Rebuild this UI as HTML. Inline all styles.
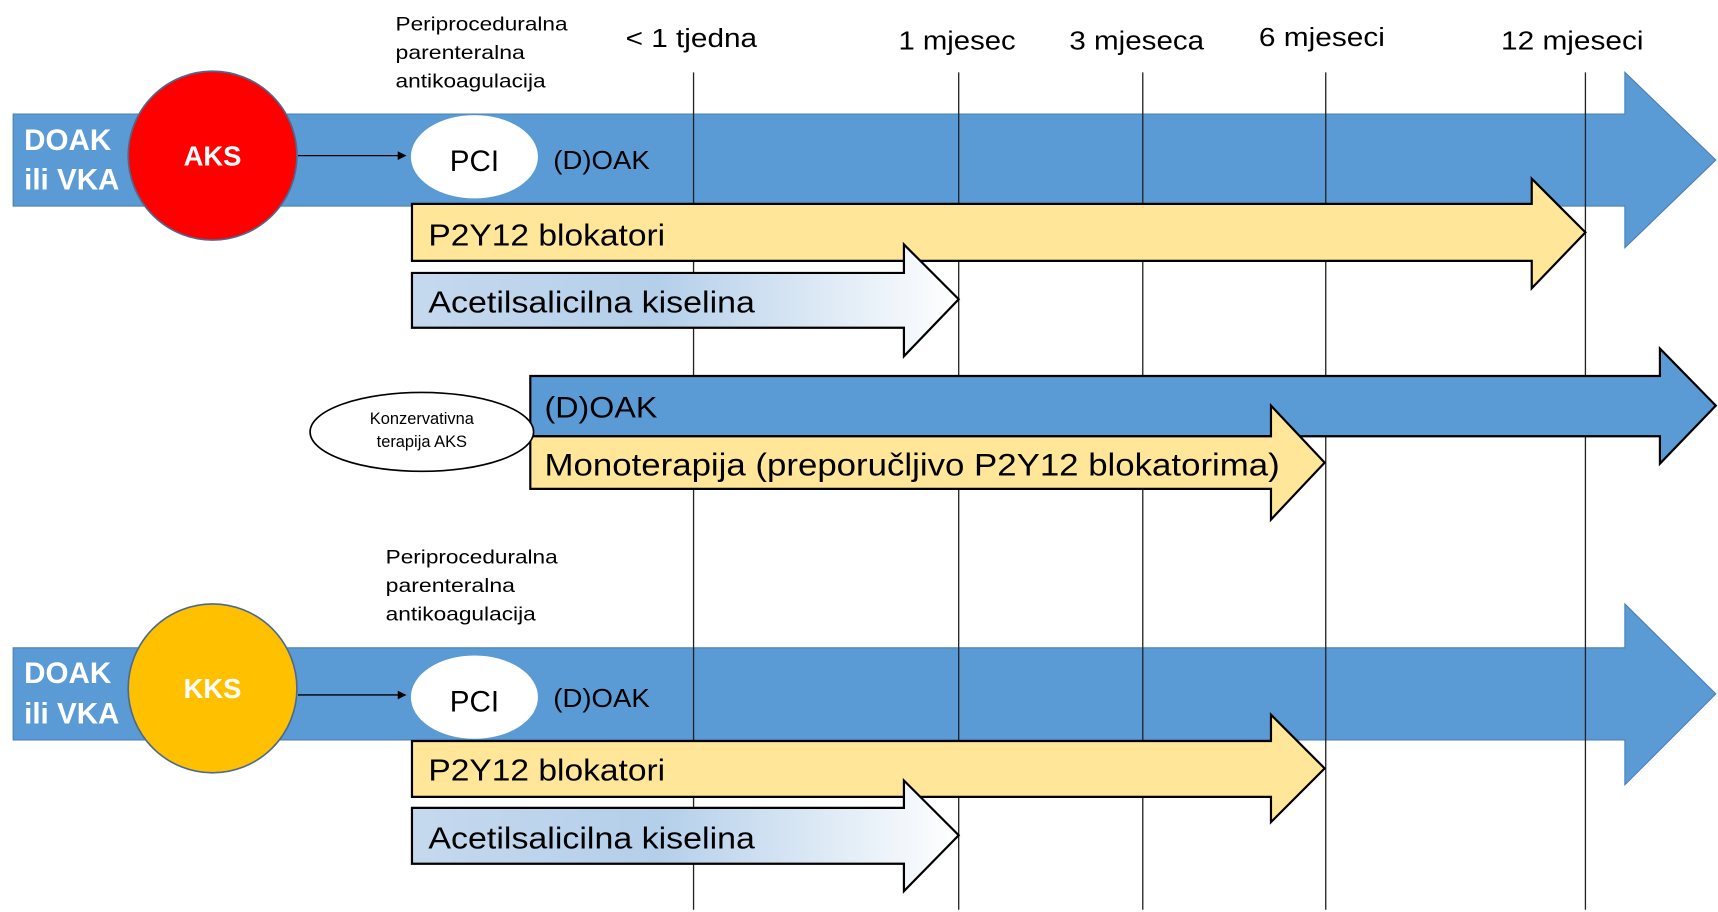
<!DOCTYPE html>
<html><head><meta charset="utf-8"><style>
html,body{margin:0;padding:0;background:#fff;}
svg{display:block;}
text{font-family:"Liberation Sans",sans-serif;}
</style></head><body>
<svg width="1718" height="912" viewBox="0 0 1568 832" preserveAspectRatio="none" xmlns="http://www.w3.org/2000/svg">
<defs>
<linearGradient id="g" x1="0" x2="1" y1="0" y2="0">
<stop offset="0" stop-color="#c5d9ee"/><stop offset="0.45" stop-color="#b4cfea"/><stop offset="1" stop-color="#ffffff"/>
</linearGradient>
<marker id="ah" markerWidth="8" markerHeight="8" refX="7" refY="4" orient="auto" markerUnits="userSpaceOnUse"><path d="M0,0 L8,4 L0,8 z" fill="#000"/></marker>
</defs>
<path d="M12,104 H1483 V66 L1566,146 L1483,226 V188 H12 Z" fill="#5b9bd5" stroke="#4a7fb5" stroke-width="1"/>
<path d="M12,591 H1483 V551 L1566,633 L1483,716 V675 H12 Z" fill="#5b9bd5" stroke="#4a7fb5" stroke-width="1"/>
<g stroke="#222" stroke-width="1.2">
<line x1="633" y1="66" x2="633" y2="830"/><line x1="875" y1="66" x2="875" y2="830"/>
<line x1="1043" y1="66" x2="1043" y2="830"/><line x1="1210" y1="66" x2="1210" y2="830"/>
<line x1="1447" y1="66" x2="1447" y2="830"/>
</g>
<path d="M484,343 H1515 V318 L1566,370 L1515,423 V398 H484 Z" fill="#5b9bd5" stroke="#000" stroke-width="2"/>
<path d="M484,398 H1160 V370 L1209,422 L1160,474 V446 H484 Z" fill="#ffe699" stroke="#000" stroke-width="2"/>
<text x="497" y="381" font-size="27" textLength="103" lengthAdjust="spacingAndGlyphs">(D)OAK</text>
<text x="497" y="434" font-size="29" textLength="671" lengthAdjust="spacingAndGlyphs">Monoterapija (preporučljivo P2Y12 blokatorima)</text>
<ellipse cx="385" cy="394" rx="102" ry="36" fill="#fff" stroke="#000" stroke-width="1.5"/>
<text x="385" y="387" font-size="15" text-anchor="middle">Konzervativna</text>
<text x="385" y="408" font-size="15" text-anchor="middle">terapija AKS</text>
<path d="M376,186 H1398 V163 L1447,212 L1398,263 V238 H376 Z" fill="#ffe699" stroke="#000" stroke-width="2"/>
<path d="M376,249 H825 V223 L875,273 L825,325 V299 H376 Z" fill="url(#g)" stroke="#000" stroke-width="2"/>
<text x="391" y="224" font-size="28" textLength="216" lengthAdjust="spacingAndGlyphs">P2Y12 blokatori</text>
<text x="391" y="285" font-size="28" textLength="298" lengthAdjust="spacingAndGlyphs">Acetilsalicilna kiselina</text>
<path d="M376,676 H1160 V652 L1209,701 L1160,750 V727 H376 Z" fill="#ffe699" stroke="#000" stroke-width="2"/>
<path d="M376,737 H825 V712 L875,762 L825,813 V788 H376 Z" fill="url(#g)" stroke="#000" stroke-width="2"/>
<text x="391" y="712" font-size="28" textLength="216" lengthAdjust="spacingAndGlyphs">P2Y12 blokatori</text>
<text x="391" y="774" font-size="28" textLength="298" lengthAdjust="spacingAndGlyphs">Acetilsalicilna kiselina</text>
<text x="22" y="137" font-size="27" font-weight="bold" fill="#fff">DOAK</text>
<text x="22" y="173" font-size="27" font-weight="bold" fill="#fff">ili VKA</text>
<circle cx="194" cy="142" r="77" fill="#ff0000" stroke="#4a6a90" stroke-width="1.5"/>
<text x="194" y="151" font-size="25" font-weight="bold" fill="#fff" text-anchor="middle">AKS</text>
<line x1="272" y1="142" x2="370" y2="142" stroke="#000" stroke-width="1.2" marker-end="url(#ah)"/>
<ellipse cx="433" cy="143" rx="58" ry="38" fill="#fff"/>
<text x="433" y="156" font-size="27" text-anchor="middle">PCI</text>
<text x="505" y="154" font-size="24" textLength="88" lengthAdjust="spacingAndGlyphs">(D)OAK</text>
<text x="22" y="623" font-size="27" font-weight="bold" fill="#fff">DOAK</text>
<text x="22" y="660" font-size="27" font-weight="bold" fill="#fff">ili VKA</text>
<circle cx="194" cy="628" r="77" fill="#ffc000" stroke="#4a6a90" stroke-width="1.5"/>
<text x="194" y="637" font-size="25" font-weight="bold" fill="#fff" text-anchor="middle">KKS</text>
<line x1="272" y1="634" x2="370" y2="634" stroke="#000" stroke-width="1.2" marker-end="url(#ah)"/>
<ellipse cx="433" cy="636" rx="58" ry="38" fill="#fff"/>
<text x="433" y="649" font-size="27" text-anchor="middle">PCI</text>
<text x="505" y="645" font-size="24" textLength="88" lengthAdjust="spacingAndGlyphs">(D)OAK</text>
<g font-size="18">
<text x="361" y="28" textLength="157" lengthAdjust="spacingAndGlyphs">Periproceduralna</text><text x="361" y="54" textLength="118" lengthAdjust="spacingAndGlyphs">parenteralna</text><text x="361" y="80" textLength="137" lengthAdjust="spacingAndGlyphs">antikoagulacija</text>
<text x="352" y="514" textLength="157" lengthAdjust="spacingAndGlyphs">Periproceduralna</text><text x="352" y="540" textLength="118" lengthAdjust="spacingAndGlyphs">parenteralna</text><text x="352" y="566" textLength="137" lengthAdjust="spacingAndGlyphs">antikoagulacija</text>
</g>
<g font-size="24">
<text x="571" y="43" textLength="120" lengthAdjust="spacingAndGlyphs">&lt; 1 tjedna</text>
<text x="820" y="45" textLength="107" lengthAdjust="spacingAndGlyphs">1 mjesec</text>
<text x="976" y="45" textLength="123" lengthAdjust="spacingAndGlyphs">3 mjeseca</text>
<text x="1149" y="42" textLength="115" lengthAdjust="spacingAndGlyphs">6 mjeseci</text>
<text x="1370" y="45" textLength="130" lengthAdjust="spacingAndGlyphs">12 mjeseci</text>
</g>
</svg>
</body></html>
